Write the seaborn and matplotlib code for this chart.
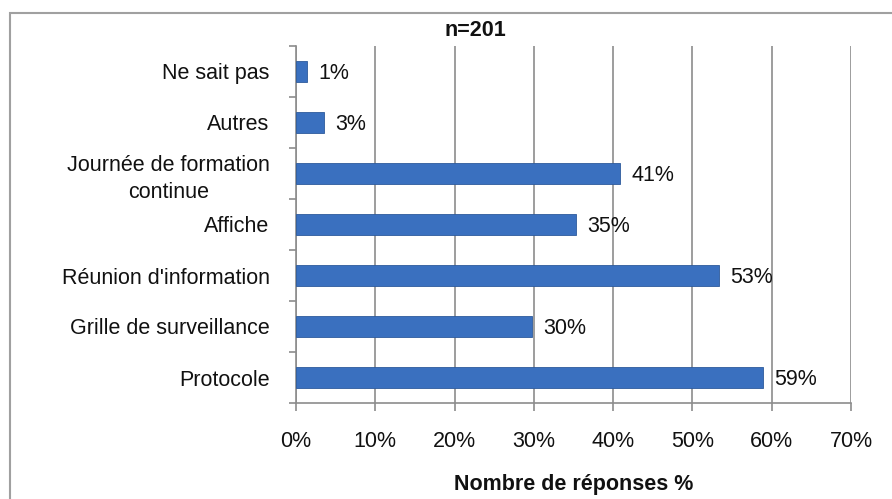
import matplotlib
matplotlib.use("Agg")
import matplotlib.pyplot as plt
import matplotlib.patches as mpatches
import seaborn as sns
import pandas as pd

# Données
categories = ["Ne sait pas", "Autres", "Journée de formation\ncontinue", "Affiche",
              "Réunion d'information", "Grille de surveillance", "Protocole"]
valeurs = [1.4, 3.5, 40.9, 35.3, 53.3, 29.8, 58.9]
etiquettes = ["1%", "3%", "41%", "35%", "53%", "30%", "59%"]
ticks_x = [0, 10, 20, 30, 40, 50, 60, 70]

df = pd.DataFrame({"categorie": categories, "valeur": valeurs})

sns.set_style("white")
plt.rcParams["font.family"] = ["Liberation Sans", "DejaVu Sans"]
FS = 15.5
GRIS = "#8c8c8c"

fig = plt.figure(figsize=(8.92, 4.99), dpi=100)
ax = fig.add_axes([296 / 892, 1 - 403 / 499, 555 / 892, 357 / 499])

sns.barplot(data=df, x="valeur", y="categorie", orient="h", color="#3a70bf",
            width=0.4, saturation=1, ax=ax, zorder=3)
for p in ax.patches:
    p.set_edgecolor("#2d5a9c")
    p.set_linewidth(0.6)

for i, (v, lab) in enumerate(zip(valeurs, etiquettes)):
    ax.text(v + 1.4, i + 0.03, lab, va="center", ha="left", fontsize=FS, color="#111111")

ax.set_xlim(0, 70)
ax.set_ylim(len(categories) - 0.5, -0.5)
ax.set_xticks(ticks_x)
ax.set_xticklabels([f"{t}%" for t in ticks_x], fontsize=FS, color="#111111")
ax.tick_params(axis="x", bottom=True, length=6, color=GRIS, width=1.2, pad=14)
ax.set_yticks(range(len(categories)))
ax.set_yticklabels(categories, fontsize=FS, color="#111111",
                   multialignment="center", linespacing=1.4)
ax.tick_params(axis="y", which="major", left=True, length=0, pad=19)

# repères entre les catégories sur l'axe vertical
ax.set_yticks([i + 0.5 for i in range(-1, len(categories))], minor=True)
ax.tick_params(axis="y", which="minor", left=True, length=5, color=GRIS, width=1.2)

ax.xaxis.grid(True, color=GRIS, linewidth=1.2, zorder=0)
ax.yaxis.grid(False)
for s in ["top", "right"]:
    ax.spines[s].set_visible(False)
for s in ["left", "bottom"]:
    ax.spines[s].set_color(GRIS)
    ax.spines[s].set_linewidth(1.2)

ax.set_ylabel("")
ax.set_xlabel("Nombre de réponses %", fontsize=FS, fontweight="bold", labelpad=16,
              color="#111111")
fig.text(475 / 892, 1 - 30 / 499, "n=201", fontsize=FS, fontweight="bold",
         ha="center", va="center", color="#111111")

# cadre du graphique
fig.add_artist(mpatches.Rectangle((10 / 892, -0.1), 1.2, 1 - 13 / 499 + 0.1,
                                  transform=fig.transFigure, fill=False,
                                  edgecolor="#a0a0a0", linewidth=1.5))

fig.savefig("out.png", dpi=100)
